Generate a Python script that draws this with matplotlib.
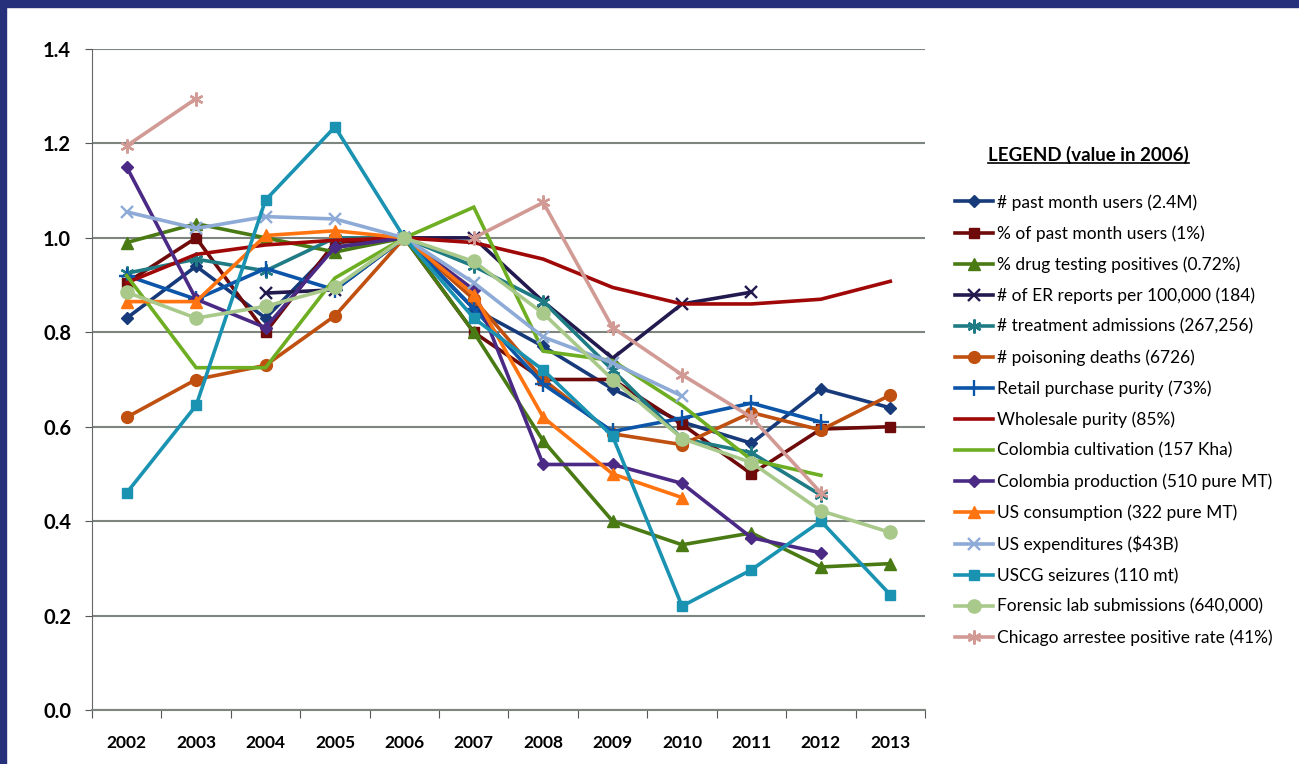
import numpy as np
import matplotlib
matplotlib.use('Agg')
import matplotlib.pyplot as plt
from matplotlib.lines import Line2D
from matplotlib.patches import Rectangle

nan = np.nan
years = ['2002', '2003', '2004', '2005', '2006', '2007', '2008', '2009', '2010', '2011', '2012', '2013']

past_month_users = [0.83, 0.94, 0.83, 0.98, 1.0, 0.85, 0.77, 0.68, 0.61, 0.565, 0.68, 0.64]
pct_past_month = [0.905, 1.0, 0.80, 0.99, 1.0, 0.80, 0.70, 0.70, 0.605, 0.50, 0.595, 0.60]
drug_testing = [0.99, 1.03, 1.0, 0.97, 1.0, 0.80, 0.57, 0.40, 0.35, 0.375, 0.303, 0.31]
er_reports = [nan, nan, 0.883, 0.89, 1.0, 1.0, 0.865, 0.745, 0.86, 0.885, nan, nan]
treatment = [0.925, 0.955, 0.93, 1.0, 1.0, 0.94, 0.865, 0.72, 0.575, 0.545, 0.455, nan]
poisoning = [0.62, 0.70, 0.73, 0.835, 1.0, 0.87, 0.70, 0.585, 0.562, 0.63, 0.593, 0.667]
retail = [0.92, 0.87, 0.935, 0.89, 1.0, 0.85, 0.69, 0.59, 0.618, 0.65, 0.61, nan]
wholesale = [0.905, 0.965, 0.985, 0.995, 1.0, 0.99, 0.955, 0.895, 0.86, 0.86, 0.87, 0.908]
cultivation = [0.92, 0.725, 0.725, 0.915, 1.0, 1.065, 0.76, 0.74, 0.645, 0.53, 0.497, nan]
production = [1.15, 0.87, 0.81, 0.98, 1.0, 0.89, 0.52, 0.52, 0.48, 0.365, 0.333, nan]
consumption = [0.865, 0.865, 1.005, 1.015, 1.0, 0.88, 0.62, 0.50, 0.45, nan, nan, nan]
expenditures = [1.055, 1.02, 1.045, 1.04, 1.0, 0.905, 0.79, 0.735, 0.665, nan, nan, nan]
seizures = [0.46, 0.645, 1.08, 1.235, 1.0, 0.83, 0.72, 0.58, 0.22, 0.297, 0.40, 0.244]
forensic = [0.885, 0.83, 0.855, 0.895, 1.0, 0.95, 0.84, 0.70, 0.575, 0.524, 0.422, 0.376]
chicago = [1.195, 1.295, nan, nan, nan, 1.0, 1.075, 0.81, 0.71, 0.62, 0.46, nan]

asterisk = (6, 2, 0)

# label, values, color, marker, marker size
series = [
    ('# past month users (2.4M)', past_month_users, '#173a7a', 'D', 6.5),
    ('% of past month users (1%)', pct_past_month, '#6e0a0a', 's', 7.5),
    ('% drug testing positives (0.72%)', drug_testing, '#4a7a14', '^', 8.5),
    ('# of ER reports per 100,000 (184)', er_reports, '#221a4e', 'x', 9),
    ('# treatment admissions (267,256)', treatment, '#1f7b84', asterisk, 10),
    ('# poisoning deaths (6726)', poisoning, '#c0500f', 'o', 8.5),
    ('Retail purchase purity (73%)', retail, '#0c55a8', '+', 11),
    ('Wholesale purity (85%)', wholesale, '#a00808', None, 0),
    ('Colombia cultivation (157 Kha)', cultivation, '#6eae22', None, 0),
    ('Colombia production (510 pure MT)', production, '#4b2a86', 'D', 6.5),
    ('US consumption (322 pure MT)', consumption, '#ff7410', '^', 8.5),
    ('US expenditures ($43B)', expenditures, '#8eaad6', 'x', 9),
    ('USCG seizures (110 mt)', seizures, '#1a92b2', 's', 7.5),
    ('Forensic lab submissions (640,000)', forensic, '#a9c98b', 'o', 9.5),
    ('Chicago arrestee positive rate (41%)', chicago, '#d29a94', asterisk, 10),
]

plt.rcParams['font.family'] = ['Lato', 'DejaVu Sans']

fig = plt.figure(figsize=(12.99, 7.64), dpi=100)
ax = fig.add_axes([92 / 1299, 1 - 710 / 764, (925 - 92) / 1299, (710 - 49) / 764])

x = np.arange(len(years))
handles = []
for label, vals, color, marker, ms in series:
    ln, = ax.plot(x, vals, color=color, lw=2.6, marker=marker, ms=ms,
                  mew=1.7 if marker in ('x', '+', asterisk) else 1,
                  label=label, solid_joinstyle='miter', clip_on=False)
    handles.append(ln)

ax.set_ylim(0, 1.4)
ax.set_xlim(-0.5, len(years) - 0.5)
ax.set_yticks(np.arange(0, 1.41, 0.2))
ax.set_yticklabels(['%.1f' % v for v in np.arange(0, 1.41, 0.2)], fontsize=14.5, fontweight='bold')
ax.yaxis.grid(True, color='#7c857e', lw=1.5)
ax.set_axisbelow(True)

ax.set_xticks(np.arange(-0.5, len(years), 1.0))
ax.set_xticklabels([])
ax.set_xticks(x, minor=True)
ax.set_xticklabels(years, minor=True, fontsize=12.5, fontweight='bold')
ax.tick_params(axis='x', which='major', length=6, color='#555555', direction='out')
ax.tick_params(axis='x', which='minor', length=0, pad=18)
ax.tick_params(axis='y', length=5, color='#555555', pad=10)

for side in ('top', 'right'):
    ax.spines[side].set_visible(False)
ax.spines['left'].set_color('#666666')
ax.spines['bottom'].set_color('#7c857e')
ax.spines['bottom'].set_linewidth(1.5)

leg = fig.legend(handles=handles, loc='upper left', bbox_to_anchor=(955 / 1299, 1 - 194 / 764),
                 frameon=False, fontsize=12.5, handlelength=2.2, handletextpad=0.2,
                 labelspacing=0.84, borderaxespad=0, borderpad=0)

title = fig.text(988 / 1299, 1 - 155 / 764, 'LEGEND (value in 2006)', fontsize=13.5,
                 fontweight='bold', va='center', ha='left')
fig.canvas.draw()
bb = title.get_window_extent().transformed(fig.transFigure.inverted())
fig.add_artist(Line2D([bb.x0, bb.x1], [bb.y0 + 0.002, bb.y0 + 0.002], color='black', lw=1.2,
                      transform=fig.transFigure))

# page frame
fig.add_artist(Rectangle((0, 1 - 7 / 764), 1, 7 / 764, transform=fig.transFigure,
                         color='#27307a', zorder=10))
fig.add_artist(Rectangle((0, 0), 6 / 1299, 1, transform=fig.transFigure,
                         color='#27307a', zorder=10))

fig.savefig('out.png', dpi=100)
